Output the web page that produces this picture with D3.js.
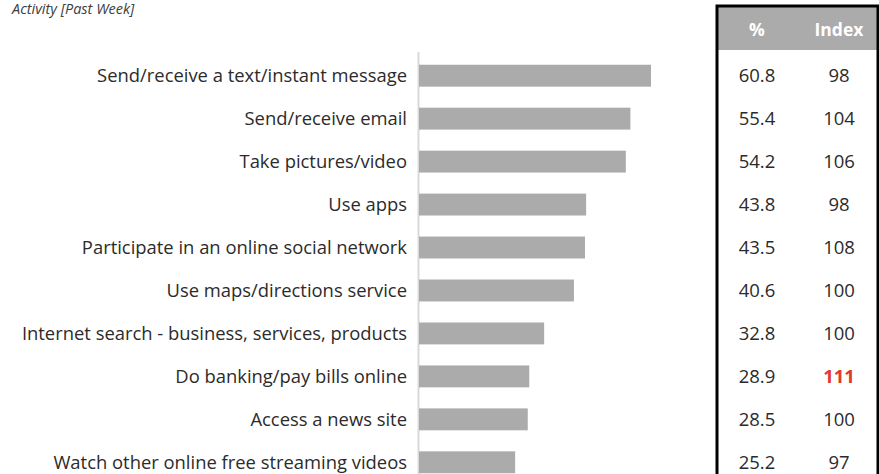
<!DOCTYPE html>
<html>
<head>
<meta charset="utf-8">
<script src="https://cdn.jsdelivr.net/npm/d3@7"></script>
<style>
  html, body { margin: 0; padding: 0; background: #fff; }
  svg { display: block; }
  text { font-family: "Open Sans", "Noto Sans", sans-serif; }
</style>
</head>
<body>
<svg id="chart" width="879" height="474"></svg>
<script>
// Activities in the past week, share (%) and index
const activities = [
  "Send/receive a text/instant message",
  "Send/receive email",
  "Take pictures/video",
  "Use apps",
  "Participate in an online social network",
  "Use maps/directions service",
  "Internet search - business, services, products",
  "Do banking/pay bills online",
  "Access a news site",
  "Watch other online free streaming videos"
];
const percent = [60.8, 55.4, 54.2, 43.8, 43.5, 40.6, 32.8, 28.9, 28.5, 25.2];
const indexValues = [98, 104, 106, 98, 108, 100, 100, 111, 100, 97];
const tableHeaders = ["%", "Index"];
const highlightIndex = 111;

const svg = d3.select("#chart");

const defs = svg.append("defs");
defs.append("filter").attr("id", "soft")
  .attr("x", "-5%").attr("y", "-20%").attr("width", "110%").attr("height", "140%")
  .append("feGaussianBlur").attr("stdDeviation", 0.6);

// Title
svg.append("text")
  .attr("x", 12).attr("y", 14)
  .attr("font-size", 14.5).attr("font-style", "italic")
  .attr("fill", "#404040")
  .text("Activity [Past Week]");

// Scales
const x = d3.scaleLinear().domain([0, 60.8]).range([419, 651]);
const y = d3.scaleBand().domain(activities).range([54, 484]).paddingInner(0.49).paddingOuter(0.25);

// Axis baseline
svg.append("line")
  .attr("x1", 418.5).attr("x2", 418.5)
  .attr("y1", 52).attr("y2", 474)
  .attr("stroke", "#d9d9d9").attr("stroke-width", 2);

// Bars
svg.append("g").attr("filter", "url(#soft)")
  .selectAll("rect").data(activities).join("rect")
  .attr("x", x(0))
  .attr("y", d => y(d))
  .attr("width", (d, i) => x(percent[i]) - x(0))
  .attr("height", y.bandwidth())
  .attr("fill", "#ababab");

// Category labels
svg.append("g").selectAll("text").data(activities).join("text")
  .attr("x", 407)
  .attr("y", d => y(d) + y.bandwidth() / 2)
  .attr("dy", "0.35em")
  .attr("text-anchor", "end")
  .attr("font-size", 18.4)
  .attr("fill", "#2b2b2b")
  .text(d => d);

// Side table
const colX = [757, 839];
svg.append("rect")
  .attr("x", 718).attr("y", 7).attr("width", 159).attr("height", 43)
  .attr("fill", "#ababab");
svg.selectAll(".hdr").data(tableHeaders).join("text")
  .attr("class", "hdr")
  .attr("x", (d, i) => colX[i]).attr("y", 30).attr("dy", "0.35em")
  .attr("text-anchor", "middle")
  .attr("font-size", 17.5).attr("font-weight", "bold")
  .attr("fill", "#ffffff")
  .text(d => d);

svg.append("g").selectAll("text").data(activities).join("text")
  .attr("x", colX[0])
  .attr("y", d => y(d) + y.bandwidth() / 2)
  .attr("dy", "0.35em")
  .attr("text-anchor", "middle")
  .attr("font-size", 18.5)
  .attr("fill", "#2b2b2b")
  .text((d, i) => percent[i].toFixed(1));

svg.append("g").selectAll("text").data(activities).join("text")
  .attr("x", colX[1])
  .attr("y", d => y(d) + y.bandwidth() / 2)
  .attr("dy", "0.35em")
  .attr("text-anchor", "middle")
  .attr("font-size", 18.5)
  .attr("font-weight", (d, i) => indexValues[i] === highlightIndex ? "bold" : "normal")
  .attr("fill", (d, i) => indexValues[i] === highlightIndex ? "#e03a2e" : "#2b2b2b")
  .text((d, i) => indexValues[i]);

// Table frame (top, left, right)
svg.append("path")
  .attr("d", "M717,474 V6 H878 V474")
  .attr("fill", "none")
  .attr("stroke", "#000")
  .attr("stroke-width", 3);
</script>
</body>
</html>
